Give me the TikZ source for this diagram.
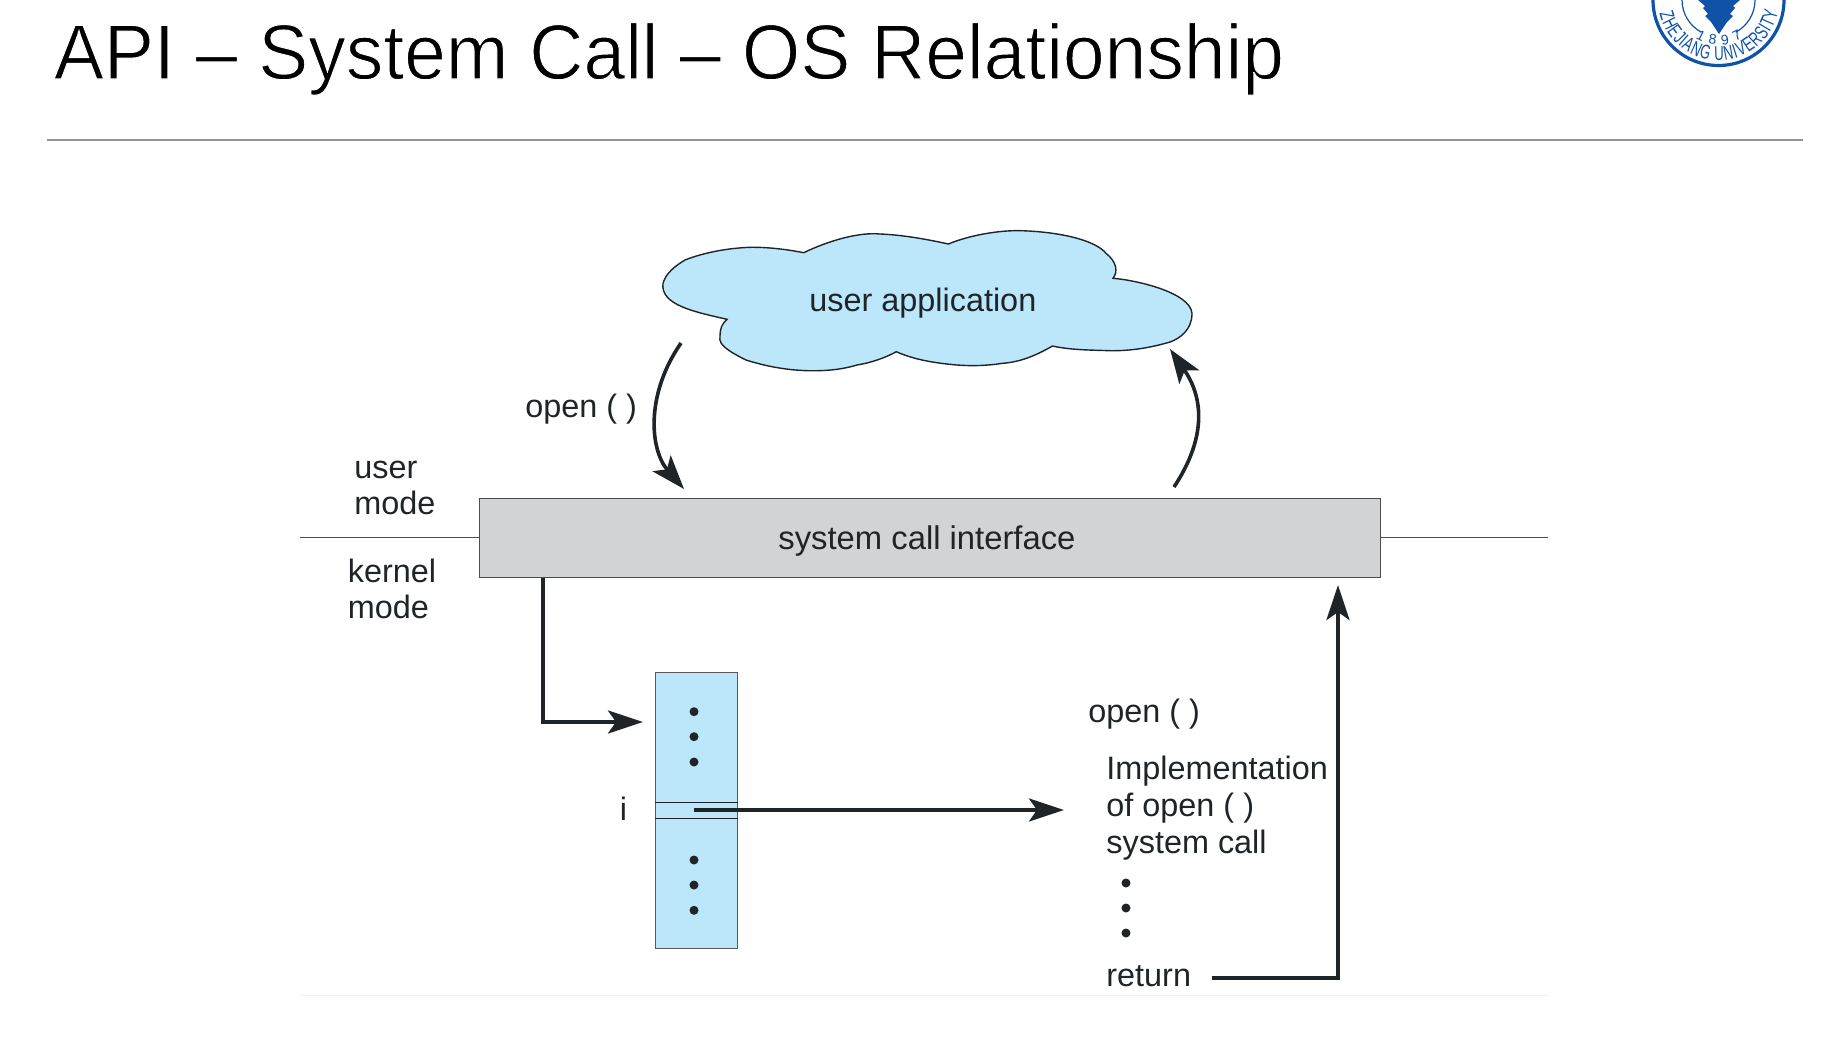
\documentclass[tikz,border=0pt]{standalone}
\usepackage{fontspec}
\setmainfont{Liberation Sans}
\newfontfamily\logofont[FakeStretch=0.66]{Liberation Sans}
\newfontfamily\headfont[FakeStretch=0.962]{Liberation Sans}
\usetikzlibrary{arrows.meta,decorations.text}
\definecolor{apiInk}{HTML}{1E2428}
\definecolor{apiBlue}{HTML}{BCE6FA}
\definecolor{apiGrey}{HTML}{D1D3D4}
\definecolor{apiLogo}{HTML}{0F52A8}
\newcommand{\lighttext}[1]{\special{pdf:code q 2 Tr 0.55 w 1 1 1 RG}#1\special{pdf:code Q}}

\begin{document}
\begin{tikzpicture}[
          x=0.5pt, y=-0.5pt,
          lbl/.style={font=\fontsize{16.2}{18}\selectfont, text=apiInk, inner sep=0pt, align=left, anchor=base west},
          dotmark/.style={circle, fill=apiInk, inner sep=0pt, minimum size=4.5pt},
          arr/.style={-{Stealth[length=17.5pt, width=11.5pt, inset=4pt]}, line width=1.9pt, apiInk},
          curv/.style={-{Stealth[length=17pt, width=12pt, inset=4pt]}, line width=1.8pt, apiInk}]
        \useasboundingbox (0,0) rectangle (1846,1050);
        \node[anchor=base west, inner sep=0pt, font=\headfont\fontsize{39}{39}\selectfont, text=black] (heading) at (53.5,79) {\lighttext{API – System Call – OS Relationship}};
        \coordinate (ruleL) at (47,140);
        \coordinate (ruleR) at (1803,140);
        \draw[black!42, line width=0.9pt] (ruleL) -- (ruleR);
        % logo
        \begin{scope}
          \clip (1640,0) rectangle (1800,80);
          \draw[apiLogo, line width=1.6pt] (1718.5,0) circle[radius=65.5];
          \draw[apiLogo, line width=0.6pt] (1682,0) arc[start angle=180, end angle=118, radius=36.5];
          \draw[apiLogo, line width=0.6pt] (1755,0) arc[start angle=0, end angle=62, radius=36.5];
          \fill[apiLogo] (1698,0) -- (1705,6) -- (1703,8) -- (1708,14) -- (1705,16) -- (1711,22) -- (1719,34)
            -- (1727,22) -- (1733,16) -- (1730,14) -- (1735,8) -- (1733,6) -- (1740,0) -- cycle;
          \path[decorate, decoration={text along path, text align={fit to path},
              text={|\logofont\fontsize{10}{10}\selectfont\color{apiLogo}|ZHEJIANG UNIVERSITY}}]
            (1718.5,0) ++(167:60.5) arc[start angle=167, end angle=11, radius=60.5];
          \path[decorate, decoration={text along path, text align={fit to path},
              text={|\fontsize{7}{7}\selectfont\color{apiLogo}|1897}}]
            (1718.5,0) ++(121:45) arc[start angle=121, end angle=58, radius=45];
        \end{scope}
        % user side
        \draw[draw=apiInk, line width=0.7pt, fill=apiBlue] (803.7,252.7)
          .. controls (830,240) and (860,232) .. (880,234)
          .. controls (905,235) and (930,240) .. (948.4,244)
          .. controls (970,235) and (1000,230) .. (1021.8,230.7)
          .. controls (1060,232) and (1095,240) .. (1106,253.3)
          .. controls (1117,262) and (1118,272) .. (1113,278.3)
          .. controls (1135,280) and (1190,292) .. (1192,313.3)
          .. controls (1192,330) and (1180,338) .. (1171,341.7)
          .. controls (1150,348) and (1130,351) .. (1110,350.7)
          .. controls (1090,350) and (1070,350) .. (1052.5,346)
          .. controls (1035,356) and (1020,362) .. (1002.7,363.3)
          .. controls (985,366) and (970,366) .. (956.8,365)
          .. controls (935,363) and (915,360) .. (896.3,351.7)
          .. controls (885,358) and (870,363) .. (857,365)
          .. controls (840,370) and (825,371) .. (807.5,370.7)
          .. controls (785,370) and (765,366) .. (746,360)
          .. controls (730,352) and (718,345) .. (720,336.7)
          .. controls (720,328) and (722,324) .. (727,319.3)
          .. controls (695,312) and (660,305) .. (663,283.3)
          .. controls (666,273) and (675,266) .. (685,260)
          .. controls (705,252) and (730,248) .. (750,247.3)
          .. controls (770,247) and (790,250) .. cycle;
        \node[lbl] (app) at (809,311) {user application};
        \node[lbl] (openA) at (525,417) {open ( )};
        \node[lbl] (umode) at (354,514) {user\\mode};
        \node[lbl] (kmode) at (347.5,618) {kernel\\mode};
        \coordinate (appOut) at (681,343);
        \coordinate (sysIn) at (684,489);
        \coordinate (sysOut) at (1174,487);
        \coordinate (appIn) at (1170,349);
        \draw[curv] (appOut) .. controls (645,395) and (650,450) .. (sysIn);
        \draw[curv] (sysOut) .. controls (1205,440) and (1205,400) .. (appIn);
        % divider and interface
        \coordinate (divL) at (300,537.5);
        \coordinate (divR) at (1548,537.5);
        \node[draw=black!70, line width=0.7pt, fill=apiGrey, minimum width=450.3pt, minimum height=39.5pt, inner sep=0pt, anchor=north west] (sys) at (479,498) {};
        \node[lbl, font=\fontsize{16.4}{18}\selectfont] (syslbl) at (778,549) {system call interface};
        \draw[black!70, line width=0.5pt] (divL) -- (divL -| sys.west);
        \draw[black!70, line width=0.5pt] (divR -| sys.east) -- (divR);
        % table
        \node[draw=black!65, line width=0.7pt, fill=apiBlue, minimum width=41pt, minimum height=138pt, inner sep=0pt, anchor=north west] (table) at (655,671.7) {};
        \coordinate (slotA) at (655,802.3);
        \coordinate (slotB) at (655,818.3);
        \draw[apiInk, line width=0.5pt] (slotA) -- (slotA -| table.east);
        \draw[apiInk, line width=0.5pt] (slotB) -- (slotB -| table.east);
        \foreach \y in {711.7,736.7,762,860,885,910.3}
          \node[dotmark] (td\y) at (694,\y) {};
        \node[lbl] (idx) at (619.5,820) {i};
        \coordinate (tabIn) at (643,722);
        \coordinate (sysDown) at (543,577.5);
        \draw[arr] (sysDown) |- (tabIn);
        % implementation
        \node[lbl] (openB) at (1088,722) {open ( )};
        \node[lbl] (impl) at (1106,853) {Implementation\\[0.5pt]of open ( )\\[0.5pt]system call};
        \foreach \y in {883,908,933}
          \node[dotmark] (id\y) at (1126,\y) {};
        \node[lbl] (ret) at (1106,986) {return};
        \coordinate (slotFrom) at (694,810);
        \coordinate (implIn) at (1064,810);
        \draw[arr] (slotFrom) -- (implIn);
        \coordinate (retOut) at (1212,978);
        \coordinate (sysBack) at (1338,585);
        \draw[arr] (retOut) -| (sysBack);
        \coordinate (edgeL) at (300,995);
        \coordinate (edgeR) at (1550,995);
        \draw[black!6, line width=0.5pt] (edgeL) -- (edgeR);
      \end{tikzpicture}
\end{document}
